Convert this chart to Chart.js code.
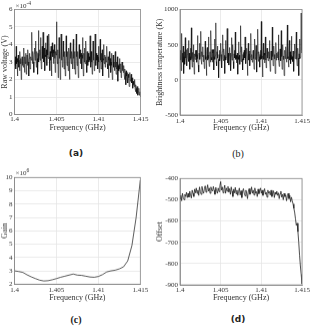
<!DOCTYPE html>
<html>
<head>
<meta charset="utf-8">
<script src="https://cdn.jsdelivr.net/npm/chart.js@4.4.0/dist/chart.umd.min.js"></script>
<style>
body{margin:0;background:#fff;width:313px;height:326px;position:relative;overflow:hidden;}
.box{position:absolute;}
.cap{position:absolute;transform:translate(-50%,-50%);font-size:10px;color:#222;white-space:nowrap;}
</style>
</head>
<body>
<div class="box" style="left:0;top:0;width:150px;height:133px"><canvas id="chartA"></canvas></div>
<div class="box" style="left:155px;top:0;width:158px;height:133px"><canvas id="chartB"></canvas></div>
<div class="box" style="left:0;top:160px;width:150px;height:141.5px"><canvas id="chartC"></canvas></div>
<div class="box" style="left:155px;top:160px;width:158px;height:141.5px"><canvas id="chartD"></canvas></div>
<div class="cap" style="left:76px;top:153px;font-family:'DejaVu Sans';font-weight:bold;font-size:9px">(a)</div>
<div class="cap" style="left:238px;top:153px;font-family:'Liberation Serif'">(b)</div>
<div class="cap" style="left:76px;top:319px;font-family:'Liberation Serif';font-weight:bold">(c)</div>
<div class="cap" style="left:238px;top:319px;font-family:'DejaVu Sans';font-weight:bold;font-size:9px">(d)</div>
<script>
// frequency channels (GHz)
var freqTicks = [1.4, 1.405, 1.41, 1.415];
var fineStart = 1.4, fineStep = 0.00005;    // panels a, b
var offStart = 1.4, offStep = 0.0001;       // panel d
var gainStart = 1.4, gainStep = 0.0005;     // panel c

// (a) raw voltage, x1e-4 V
var rawVoltage = [
  3.1, 2.8, 3.3, 2.6, 3.9, 2.9, 3.2, 2.2, 3.0, 3.4, 2.7, 3.1, 2.5, 3.6, 2.9, 3.2, 2.0, 3.0, 3.3, 2.8,
  3.2, 2.7, 3.8, 3.0, 2.4, 3.3, 2.9, 3.5, 2.3, 3.1, 3.4, 2.8, 3.7, 3.0, 2.2, 3.2, 3.5, 2.6, 3.0, 3.3,
  3.1, 4.7, 3.3, 2.9, 3.6, 3.0, 2.4, 3.5, 3.8, 3.1, 4.2, 3.4, 2.7, 3.6, 3.2, 2.3, 3.5, 4.8, 3.0, 3.4,
  3.7, 3.1, 4.4, 3.4, 2.6, 3.6, 3.9, 3.2, 4.7, 3.5, 3.0, 3.8, 2.5, 3.4, 4.1, 3.3, 3.7, 2.8, 4.5, 3.4,
  3.2, 3.8, 4.6, 3.3, 2.5, 3.6, 3.1, 3.9, 2.2, 3.5, 4.1, 3.3, 3.7, 2.9, 3.5, 4.0, 3.2, 2.4, 3.6, 3.4,
  5.3, 3.4, 2.9, 3.7, 2.1, 3.5, 4.4, 3.2, 3.8, 2.0, 3.4, 4.6, 3.1, 3.6, 2.7, 3.5, 4.2, 3.3, 2.6, 3.6,
  3.2, 2.2, 3.5, 4.5, 3.3, 2.8, 3.6, 3.1, 2.5, 3.8, 3.4, 2.0, 3.5, 4.1, 3.2, 2.9, 3.6, 3.3, 2.6, 3.4,
  4.3, 3.2, 2.6, 3.6, 3.0, 2.3, 3.5, 4.6, 3.3, 2.8, 3.6, 3.1, 2.1, 3.4, 4.0, 3.2, 3.7, 2.9, 3.3, 3.5,
  2.6, 3.4, 4.4, 3.2, 2.2, 3.5, 3.0, 3.8, 2.9, 3.4, 4.2, 3.1, 2.4, 3.6, 3.2, 2.8, 3.5, 3.0, 3.3, 3.1,
  4.5, 3.2, 2.7, 3.6, 3.0, 2.3, 3.4, 4.2, 3.1, 3.5, 2.5, 3.3, 4.6, 3.2, 2.8, 3.5, 3.1, 3.4, 2.6, 3.3,
  3.9, 3.0, 2.4, 3.4, 4.3, 3.1, 2.6, 3.5, 3.0, 3.7, 2.2, 3.2, 4.0, 3.1, 2.9, 3.4, 2.7, 3.3, 3.0, 3.2,
  3.9, 2.9, 2.6, 3.3, 2.1, 3.1, 3.6, 2.8, 3.2, 2.4, 3.0, 3.5, 2.8, 2.0, 3.1, 3.4, 2.7, 3.0, 2.5, 3.2,
  3.6, 2.7, 2.3, 3.0, 2.6, 3.3, 1.9, 2.8, 2.5, 2.9, 3.2, 2.6, 2.4, 2.9, 2.1, 2.7, 3.0, 2.5, 2.8, 2.4,
  2.8, 2.3, 2.0, 2.6, 2.4, 1.7, 2.5, 2.2, 2.0, 2.4, 1.8, 2.3, 2.1, 1.6, 2.2, 2.4, 1.9, 2.0, 2.3, 1.8,
  2.1, 1.8, 1.5, 1.9, 1.7, 1.6, 2.0, 1.5, 1.3, 1.7, 1.5, 1.2, 1.6, 1.4, 1.1, 1.3, 1.5, 1.1, 1.2, 1.3, 1.0
];
var rawTicks = [0, 1, 2, 3, 4, 5, 6];

// (b) brightness temperature, K
var brightTemp = [
  350, 280, 420, 130, 660, 300, 380, 250, 480, 90, 330, 400, 220, 600, 310, 270, 430, 200, 360, 450,
  310, 560, 260, 380, 150, 330, 450, 280, 740, 300, 180, 390, 260, 500, 340, 80, 370, 290, 420, 330,
  420, 250, 360, 630, 300, 210, 110, 380, 520, 290, 340, 690, 280, 220, 400, 330, 470, 260, 350, 300,
  160, 380, 550, 290, 330, 60, 400, 460, 280, 350, 610, 300, 190, 360, 400, 250, 700, 320, 280, 430,
  250, 380, 430, 140, 330, 580, 290, 350, 810, 260, 200, 400, 480, 310, 290, 30, 360, 420, 270, 340,
  520, 290, 360, 170, 400, 640, 300, 270, 440, 350, 90, 330, 560, 280, 320, 410, 730, 300, 240, 380,
  210, 350, 460, 300, 380, 130, 340, 600, 280, 320, 500, 260, 160, 370, 420, 310, 680, 290, 350, 240,
  300, 380, 80, 330, 540, 290, 350, 220, 400, 770, 260, 330, 470, 300, 140, 360, 390, 280, 420, 310,
  610, 290, 230, 380, 450, 310, 60, 340, 520, 280, 370, 410, 200, 330, 660, 300, 280, 360, 250, 400,
  420, 300, 150, 350, 580, 290, 330, 490, 270, 110, 380, 720, 300, 260, 400, 330, 180, 360, 420, 290,
  830, 300, 340, 40, 380, 520, 290, 380, 240, 350, 610, 280, 170, 360, 450, 310, 330, 270, 400, 330,
  560, 300, 120, 380, 410, 290, 280, 750, 330, 200, 370, 480, 300, 360, 90, 320, 530, 280, 380, 310,
  310, 400, 640, 280, 190, 350, 440, 300, 270, 700, 330, 150, 380, 500, 290, 340, 60, 360, 420, 300,
  470, 330, 250, 380, 780, 300, 330, 180, 400, 560, 280, 400, 230, 350, 620, 290, 330, 260, 410, 300,
  120, 380, 510, 300, 360, 420, 680, 290, 200, 390, 450, 310, 60, 370, 580, 300, 320, 470, 950, 380, 420
];
var tempTicks = [-500, 0, 500, 1000];

// (c) gain, x1e6
var gain = [
  3.00, 2.95, 2.88, 2.70, 2.55, 2.42, 2.30, 2.24, 2.26, 2.33,
  2.42, 2.52, 2.60, 2.68, 2.76, 2.68, 2.66, 2.60, 2.54, 2.52,
  2.58, 2.72, 2.92, 3.00, 3.05, 3.15, 3.30, 3.75, 4.90, 7.00, 9.80
];
var gainTicks = [2, 3, 4, 5, 6, 7, 8, 9, 10];

// (d) offset
var offset = [
  -495, -480, -505, -470, -490, -500, -475, -485, -465, -490,
  -470, -488, -460, -478, -492, -455, -470, -485, -450, -468,
  -445, -470, -455, -480, -440, -462, -475, -438, -458, -470,
  -448, -435, -465, -450, -430, -460, -445, -470, -440, -455,
  -460, -438, -455, -475, -442, -458, -470, -445, -462, -435,
  -415, -455, -440, -468, -450, -432, -470, -445, -460, -438,
  -465, -448, -475, -440, -460, -485, -450, -468, -442, -472,
  -455, -480, -462, -445, -478, -458, -490, -460, -448, -470,
  -482, -455, -470, -495, -460, -448, -475, -465, -440, -470,
  -455, -478, -445, -470, -462, -485, -450, -472, -458, -445,
  -470, -455, -480, -462, -448, -475, -465, -488, -455, -470,
  -462, -478, -455, -485, -470, -458, -490, -465, -475, -460,
  -480, -468, -495, -472, -460, -488, -475, -500, -470, -485,
  -478, -505, -482, -470, -495, -480, -510, -488, -505, -520,
  -540, -560, -590, -620, -610, -650, -700, -760, -810, -850, -895
];
var offsetTicks = [-900, -800, -700, -600, -500, -400];

var tickFont = {family: 'Liberation Serif', size: 7};
var titleFont = {family: 'Liberation Serif', size: 8};
var ink = '#333';

function toPoints(vals, start, step){
  var pts = [];
  for (var i = 0; i < vals.length; i++) {
    pts.push({x: start + i * step, y: vals[i]});
  }
  return pts;
}

// box around the plot + the x10^n note
var framePlugin = {
  id: 'frame',
  afterDraw: function(chart){
    var a = chart.chartArea, ctx = chart.ctx;
    ctx.save();
    ctx.strokeStyle = '#8a8a8a';
    ctx.lineWidth = 0.8;
    ctx.strokeRect(a.left, a.top, a.right - a.left, a.bottom - a.top);
    var ex = chart.options.plugins.frame.exp;
    if (ex) {
      ctx.fillStyle = ink;
      ctx.font = '7px "Liberation Serif"';
      ctx.textBaseline = 'alphabetic';
      ctx.fillText('\u00d710', a.left + 1, a.top - 2);
      var w = ctx.measureText('\u00d710').width;
      ctx.font = '5.5px "Liberation Serif"';
      ctx.fillText(ex, a.left + 1 + w, a.top - 5);
    }
    ctx.restore();
  }
};

function makeChart(id, pts, o){
  return new Chart(document.getElementById(id), {
    type: 'line',
    data: {datasets: [{data: pts, borderColor: o.color, borderWidth: o.lw, pointRadius: 0, tension: 0, fill: false}]},
    options: {
      responsive: true, maintainAspectRatio: false, animation: false,
      layout: {padding: {top: o.top, right: o.right, left: 0, bottom: 0}},
      plugins: {legend: {display: false}, tooltip: {enabled: false}, frame: {exp: o.exp}},
      scales: {
        x: {
          type: 'linear', min: 1.4, max: 1.415,
          afterBuildTicks: function(s){ s.ticks = freqTicks.map(function(v){ return {value: v}; }); },
          afterFit: function(s){ s.height = o.xh; },
          ticks: {padding: o.xpad, maxRotation: 0, autoSkip: false, font: tickFont, color: ink,
                  callback: function(v){ return String(Number(v.toFixed(3))); }},
          grid: {color: '#e3e3e3', lineWidth: 0.7, drawTicks: false},
          border: {color: '#8a8a8a', width: 0.8},
          title: {display: true, text: 'Frequency (GHz)', font: titleFont, color: ink, padding: 0}
        },
        y: {
          type: 'linear', min: o.yTicks[0], max: o.yTicks[o.yTicks.length - 1],
          afterBuildTicks: function(s){ s.ticks = o.yTicks.map(function(v){ return {value: v}; }); },
          afterFit: function(s){ s.width = o.yw; },
          ticks: {padding: o.ypad, autoSkip: false, font: tickFont, color: ink,
                  callback: function(v){ return String(v); }},
          grid: {color: '#e3e3e3', lineWidth: 0.7, drawTicks: false},
          border: {color: '#8a8a8a', width: 0.8},
          title: {display: true, text: o.ytitle, font: titleFont, color: ink, padding: 0}
        }
      }
    },
    plugins: [framePlugin]
  });
}

makeChart('chartA', toPoints(rawVoltage, fineStart, fineStep), {
  color: '#000', lw: 0.55, top: 9.5, right: 9.5, yw: 14.5, xh: 18.5, xpad: 0, ypad: 2,
  yTicks: rawTicks, ytitle: 'Raw voltage (V)', exp: '-4'
});
makeChart('chartB', toPoints(brightTemp, fineStart, fineStep), {
  color: '#000', lw: 0.55, top: 9.5, right: 11, yw: 25, xh: 18, xpad: 1.5, ypad: 2,
  yTicks: tempTicks, ytitle: 'Brightness temperature (K)'
});
makeChart('chartC', toPoints(gain, gainStart, gainStep), {
  color: '#333', lw: 0.8, top: 17.3, right: 9.5, yw: 14.5, xh: 18.2, xpad: 1.8, ypad: 2,
  yTicks: gainTicks, ytitle: 'Gain', exp: '6'
});
makeChart('chartD', toPoints(offset, offStart, offStep), {
  color: '#222', lw: 0.8, top: 18.3, right: 11, yw: 25, xh: 17.5, xpad: 0.5, ypad: 2,
  yTicks: offsetTicks, ytitle: 'Offset'
});
</script>
</body>
</html>
